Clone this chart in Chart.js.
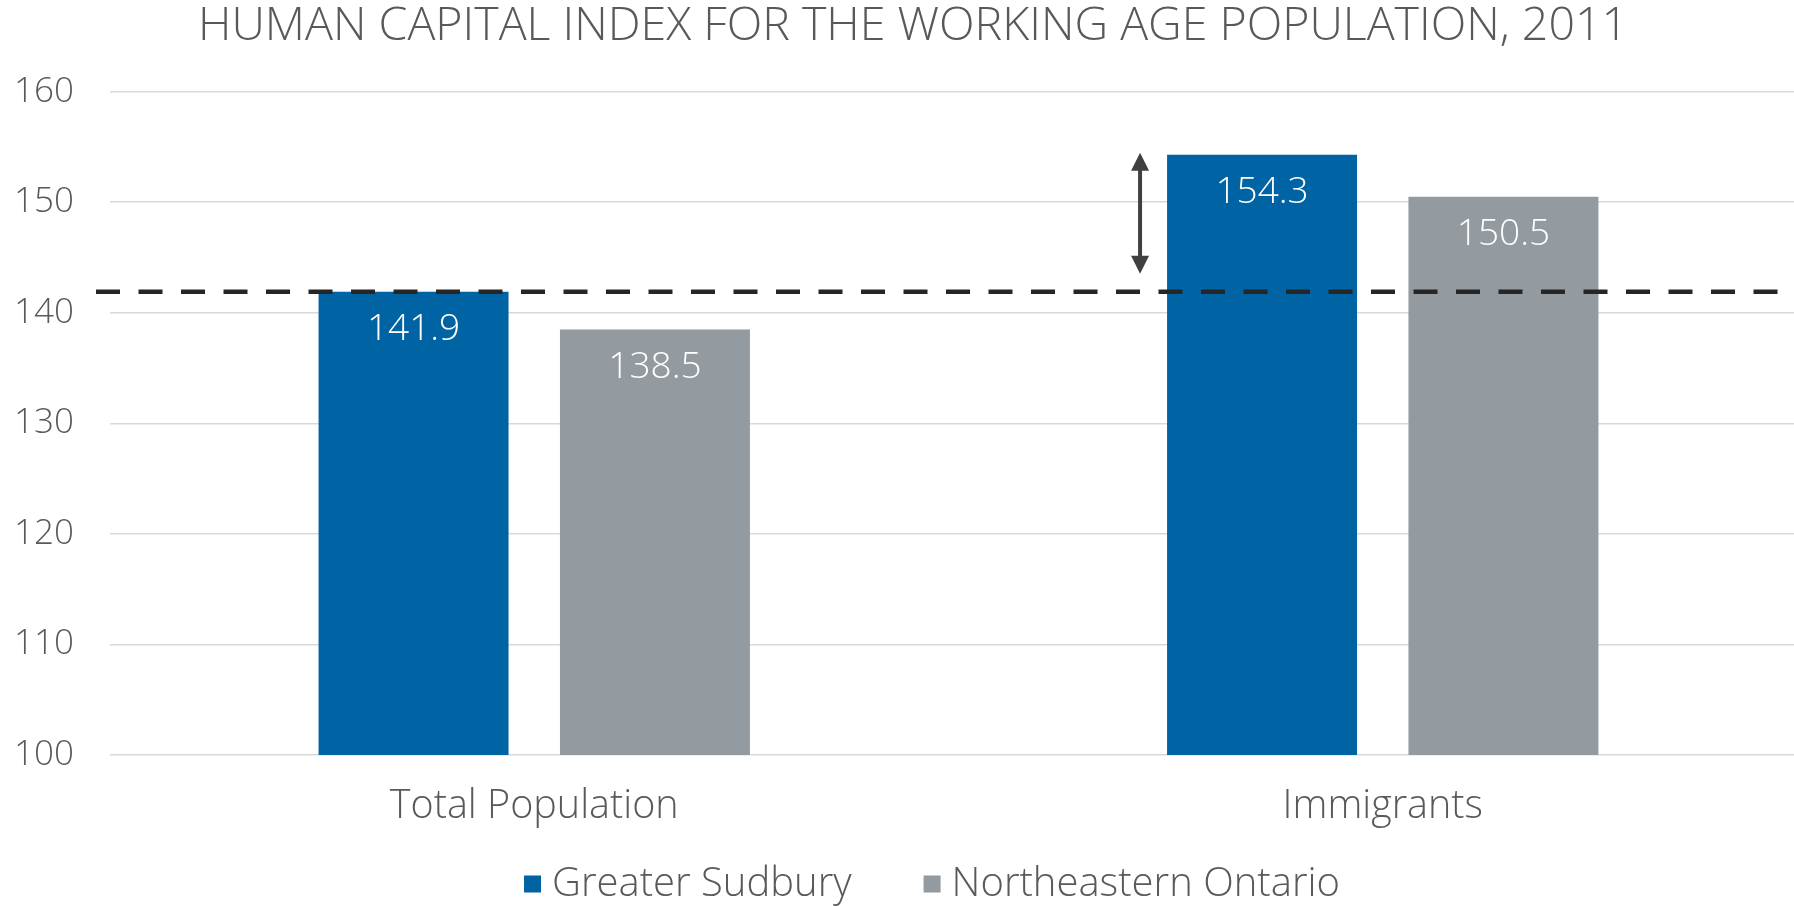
<!DOCTYPE html>
<html>
<head>
<meta charset="utf-8">
<script src="https://cdn.jsdelivr.net/npm/chart.js@4"></script>
<style>
  html, body { margin: 0; padding: 0; background: #fff; }
  #wrap { width: 1794px; height: 906px; }
</style>
</head>
<body>
<div id="wrap"><canvas id="hciChart" width="1794" height="906"></canvas></div>
<script>
/* ─────────────────── datos ──────────────── */
const titulo       = "HUMAN CAPITAL INDEX FOR THE WORKING AGE POPULATION, 2011";
const categorias   = ["Total Population", "Immigrants"];
const sudbury      = [141.9, 154.3];
const noreste      = [138.5, 150.5];
const referencia   = 141.9;   // línea discontinua (Greater Sudbury, total)
const yTicks       = [100, 110, 120, 130, 140, 150, 160];

const FUENTE = "'Open Sans', 'DejaVu Sans', sans-serif";
const GRIS_TXT = "#595959";
const EXTRA_DERECHA = 13;   // el área del gráfico sale un poco del lienzo

/* ──────────────── plugin: título, etiquetas, línea, flecha y leyenda ──────────────── */
const extrasPlugin = {
  id: "extras",
  afterLayout(chart) {
    // estirar el área a la derecha, como en el original
    const x = chart.scales.x;
    chart.chartArea.right += EXTRA_DERECHA;
    chart.chartArea.width += EXTRA_DERECHA;
    x.right += EXTRA_DERECHA;
    x.width += EXTRA_DERECHA;
    x.configure();
  },
  afterDatasetsDraw(chart) {
    const ctx = chart.ctx;
    const y = chart.scales.y;
    const area = chart.chartArea;

    // etiquetas de valor dentro de las barras
    ctx.save();
    ctx.fillStyle = "#fff";
    ctx.font = `300 37px ${FUENTE}`;
    ctx.textAlign = "center";
    ctx.textBaseline = "middle";
    chart.data.datasets.forEach((ds, i) => {
      chart.getDatasetMeta(i).data.forEach((bar, j) => {
        ctx.fillText(ds.data[j].toFixed(1), bar.x, bar.y + 38);
      });
    });
    ctx.restore();

    // línea discontinua de referencia
    const yRef = y.getPixelForValue(referencia);
    ctx.save();
    ctx.strokeStyle = "#262626";
    ctx.lineWidth = 4.5;
    ctx.setLineDash([24, 18.5]);
    ctx.beginPath();
    ctx.moveTo(area.left - 14, yRef);
    ctx.lineTo(chart.width, yRef);
    ctx.stroke();
    ctx.restore();

    // flecha doble junto a la barra de inmigrantes
    const bar = chart.getDatasetMeta(0).data[1];
    const ax = bar.x - bar.width / 2 - 27;
    const yTop = y.getPixelForValue(sudbury[1]) - 2;
    const yBot = yRef - 18;
    const head = 18, half = 9;
    ctx.save();
    ctx.strokeStyle = "#404040";
    ctx.fillStyle = "#404040";
    ctx.lineWidth = 4;
    ctx.beginPath();
    ctx.moveTo(ax, yTop + head - 2);
    ctx.lineTo(ax, yBot - head + 2);
    ctx.stroke();
    ctx.beginPath();
    ctx.moveTo(ax, yTop);
    ctx.lineTo(ax - half, yTop + head);
    ctx.lineTo(ax + half, yTop + head);
    ctx.closePath();
    ctx.fill();
    ctx.beginPath();
    ctx.moveTo(ax, yBot);
    ctx.lineTo(ax - half, yBot - head);
    ctx.lineTo(ax + half, yBot - head);
    ctx.closePath();
    ctx.fill();
    ctx.restore();
  },
  afterDraw(chart) {
    const ctx = chart.ctx;

    // título (en el original va algo desplazado a la derecha)
    ctx.save();
    ctx.font = `300 46.5px ${FUENTE}`;
    ctx.fillStyle = GRIS_TXT;
    ctx.textAlign = "center";
    ctx.textBaseline = "middle";
    ctx.fillText(titulo, 913, 27);
    ctx.restore();

    // leyenda dibujada a mano (espaciado como el original)
    const box = 17, gapTxt = 11, gapItem = 72, yMid = 884;
    ctx.save();
    ctx.font = `300 40px ${FUENTE}`;
    ctx.textBaseline = "middle";
    const items = chart.data.datasets.map(ds => ({
      label: ds.label, color: ds.backgroundColor,
      w: box + gapTxt + ctx.measureText(ds.label).width
    }));
    const total = items.reduce((s, it) => s + it.w, 0) + gapItem * (items.length - 1);
    let x = 932 - total / 2;
    items.forEach(it => {
      ctx.fillStyle = it.color;
      ctx.fillRect(x, yMid - box / 2, box, box);
      ctx.fillStyle = GRIS_TXT;
      ctx.fillText(it.label, x + box + gapTxt, yMid + 1);
      x += it.w + gapItem;
    });
    ctx.restore();
  }
};

/* ──────────────── gráfico ──────────────── */
const ctx = document.getElementById("hciChart").getContext("2d");
new Chart(ctx, {
  type: "bar",
  data: {
    labels: categorias,
    datasets: [
      {
        label: "Greater Sudbury",
        data: sudbury,
        backgroundColor: "#0063A3"
      },
      {
        label: "Northeastern Ontario",
        data: noreste,
        backgroundColor: "#939AA0"
      }
    ]
  },
  options: {
    responsive: false,
    animation: false,
    categoryPercentage: 0.569,
    barPercentage: 0.787,
    layout: { padding: { left: 0, right: 0, top: 91.7, bottom: 60 } },
    scales: {
      x: {
        afterFit: s => { s.height = 91; },
        grid: { display: false },
        border: { display: false },
        ticks: { color: GRIS_TXT, font: { family: FUENTE, size: 39.5, weight: 300 }, padding: 20 }
      },
      y: {
        min: 100,
        max: 160,
        afterBuildTicks: s => { s.ticks = yTicks.map(v => ({ value: v })); },
        afterFit: s => { s.width = 110; },
        grid: { color: "#D9D9D9", lineWidth: 1.5, drawTicks: false },
        border: { display: false },
        ticks: { color: GRIS_TXT, font: { family: FUENTE, size: 35, weight: 300 }, padding: 36 }
      }
    },
    plugins: {
      title: { display: false },
      legend: { display: false },
      tooltip: { enabled: false }
    }
  },
  plugins: [extrasPlugin]
});
</script>
</body>
</html>
